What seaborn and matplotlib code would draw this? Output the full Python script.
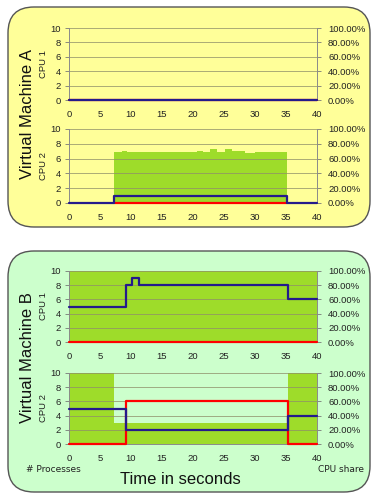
import numpy as np
import pandas as pd
import matplotlib
matplotlib.use("Agg")
import matplotlib.pyplot as plt
from matplotlib.patches import FancyBboxPatch
from matplotlib.ticker import FuncFormatter
import seaborn as sns

# ---------------- data ----------------
x_ticks = [0, 5, 10, 15, 20, 25, 30, 35, 40]
proc_ticks = [0, 2, 4, 6, 8, 10]

# Virtual Machine A, CPU 1
a1_proc_t = [0, 40]
a1_proc_v = [0, 0]
a1_red_t = [0, 40]
a1_red_v = [0, 0]
a1_share_t = [0, 40]
a1_share_v = [0.0, 0.0]

# Virtual Machine A, CPU 2
a2_proc_t = [0, 7.3, 35.1, 40]
a2_proc_v = [0, 1, 0, 0]
a2_red_t = [7.3, 35.1]
a2_red_v = [0, 0]
a2_share_t = [7.3, 8.5, 9.3, 20.6, 21.6, 22.7, 23.8, 25.2, 26.3, 28.4, 30.0, 35.1]
a2_share_v = [0.69, 0.705, 0.69, 0.70, 0.69, 0.73, 0.69, 0.73, 0.70, 0.68, 0.69, 0.0]

# Virtual Machine B, CPU 1
b1_proc_t = [0, 9.2, 10.1, 11.3, 35.4, 40]
b1_proc_v = [5, 8, 9, 8, 6, 6]
b1_red_t = [0, 40]
b1_red_v = [0, 0]
b1_share_t = [0, 40]
b1_share_v = [1.0, 1.0]

# Virtual Machine B, CPU 2
b2_proc_t = [0, 9.2, 35.4, 40]
b2_proc_v = [5, 2, 4, 4]
b2_red_t = [0, 9.2, 35.4, 40]
b2_red_v = [0, 6, 0, 0]
b2_share_t = [0, 7.3, 35.4, 40]
b2_share_v = [1.0, 0.30, 1.0, 1.0]

# ---------------- style ----------------
sns.set_theme(style="white")
plt.rcParams['font.family'] = ['Liberation Sans', 'DejaVu Sans']

W, H = 377, 503
fig = plt.figure(figsize=(W / 100, H / 100), dpi=100)

YELLOW = "#FFFF99"
LGREEN = "#CCFFCC"
BARGREEN = "#9EDC2A"
BLUE = "#241A8C"
RED = "#FF0000"
GRID = "#8F8F6A"
TICKFS = 6.8

def panel(x0, y0, x1, y1, color):
    p = FancyBboxPatch((x0 / 100, (H - y1) / 100), (x1 - x0) / 100, (y1 - y0) / 100,
                       boxstyle="round,pad=0,rounding_size=0.26",
                       transform=fig.dpi_scale_trans, facecolor=color,
                       edgecolor="#555555", linewidth=1.0, zorder=-10)
    fig.patches.append(p)

panel(8, 7, 370, 227, YELLOW)
panel(8, 251, 370, 492, LGREEN)

def make_ax(ytop, ybot, bg, label, proc_t, proc_v, red_t, red_v, share_t, share_v):
    ax = fig.add_axes([69 / W, 1 - ybot / H, 248 / W, (ybot - ytop) / H])
    ax2 = ax.twinx()
    ax2.set_zorder(1)
    ax.set_zorder(2)
    ax.patch.set_visible(False)
    ax2.patch.set_visible(True)
    ax2.patch.set_facecolor(bg)
    # share fill on the right axis
    ax2.fill_between(share_t, share_v, step="post", color=BARGREEN, linewidth=0, zorder=1)
    ax2.set_ylim(0, 1)
    ax2.set_xlim(0, 40)
    ax2.set_yticks([0, 0.2, 0.4, 0.6, 0.8, 1.0])
    ax2.yaxis.set_major_formatter(FuncFormatter(lambda v, p: f"{v*100:.2f}%"))
    ax2.tick_params(axis='y', labelsize=TICKFS, length=3, width=0.6, color="#777777",
                    pad=5, labelcolor="#222222", right=True, labelright=True)
    for s in ax2.spines.values():
        s.set_visible(False)
    for g in proc_ticks[1:]:
        ax2.axhline(g / 10, color=GRID, lw=0.7, alpha=0.75, zorder=2)
    df_r = pd.DataFrame({"t": red_t, "v": red_v})
    df_b = pd.DataFrame({"t": proc_t, "v": proc_v})
    sns.lineplot(data=df_r, x="t", y="v", drawstyle="steps-post", color=RED, lw=1.6,
                 estimator=None, ax=ax, zorder=3, clip_on=False)
    sns.lineplot(data=df_b, x="t", y="v", drawstyle="steps-post", color=BLUE, lw=1.6,
                 estimator=None, ax=ax, zorder=4, clip_on=False)
    ax.set_xlim(0, 40)
    ax.set_ylim(0, 10)
    ax.set_xticks(x_ticks)
    ax.set_yticks(proc_ticks)
    ax.tick_params(axis='both', labelsize=TICKFS, length=3, width=0.6, color="#777777",
                   labelcolor="#222222", pad=2)
    ax.tick_params(axis='x', pad=5, length=2)
    ax.tick_params(axis='y', left=True, pad=3)
    ax.set_xlabel("")
    ax.set_ylabel(label, fontsize=6.8, color="#222222")
    ax.yaxis.set_label_coords(-(69 - 48) / 248, 0.5)
    ax.spines["top"].set_visible(False)
    for k in ["left", "right", "bottom"]:
        ax.spines[k].set_color("#8A8A8A")
        ax.spines[k].set_linewidth(0.7)
    return ax

make_ax(28, 100, YELLOW, "CPU 1", a1_proc_t, a1_proc_v, a1_red_t, a1_red_v, a1_share_t, a1_share_v)
make_ax(129, 203, YELLOW, "CPU 2", a2_proc_t, a2_proc_v, a2_red_t, a2_red_v, a2_share_t, a2_share_v)
make_ax(271, 342, LGREEN, "CPU 1", b1_proc_t, b1_proc_v, b1_red_t, b1_red_v, b1_share_t, b1_share_v)
make_ax(373, 444, LGREEN, "CPU 2", b2_proc_t, b2_proc_v, b2_red_t, b2_red_v, b2_share_t, b2_share_v)

fig.text(27 / W, 1 - 114 / H, "Virtual Machine A", rotation=90, ha="center", va="center",
         fontsize=12, color="#111111")
fig.text(27 / W, 1 - 358 / H, "Virtual Machine B", rotation=90, ha="center", va="center",
         fontsize=12, color="#111111")
fig.text(180 / W, 1 - 480 / H, "Time in seconds", ha="center", va="center",
         fontsize=12, color="#111111")
fig.text(26 / W, 1 - 470 / H, "# Processes", ha="left", va="center", fontsize=6.5,
         family=["DejaVu Sans"], color="#222222")
fig.text(364 / W, 1 - 470 / H, "CPU share", ha="right", va="center", fontsize=6.5,
         family=["DejaVu Sans"], color="#222222")

fig.savefig("out.png", dpi=100)
